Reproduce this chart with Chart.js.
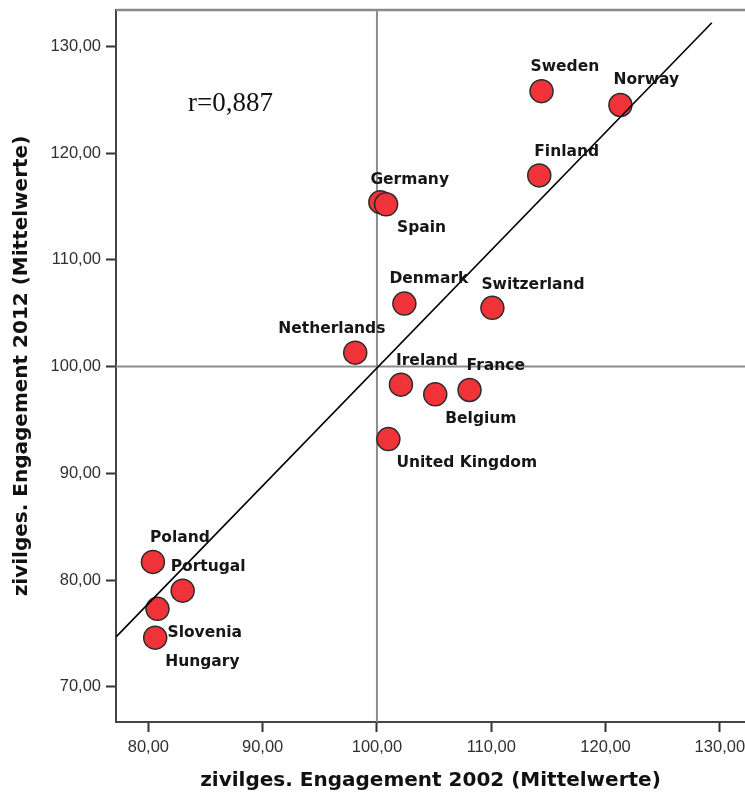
<!DOCTYPE html>
<html>
<head>
<meta charset="utf-8">
<script src="https://cdn.jsdelivr.net/npm/chart.js@4.4.1/dist/chart.umd.min.js"></script>
<style>
  html, body { margin: 0; padding: 0; background: #fff; overflow: hidden; }
  canvas { display: block; }
</style>
</head>
<body>
<canvas id="myChart" width="745" height="796"></canvas>
<script>
// data
const countries = ['Sweden', 'Norway', 'Finland', 'Germany', 'Spain', 'Denmark', 'Switzerland', 'Netherlands',
                   'Ireland', 'France', 'Belgium', 'United Kingdom', 'Poland', 'Portugal', 'Slovenia', 'Hungary'];
const engagement2002 = [114.4, 121.3, 114.2, 100.3, 100.8, 102.4, 110.1, 98.1,
                        102.1, 108.1, 105.1, 101.0, 80.4, 83.0, 80.8, 80.6];
const engagement2012 = [125.8, 124.5, 117.9, 115.4, 115.2, 105.9, 105.5, 101.3,
                        98.3, 97.8, 97.4, 93.2, 81.7, 79.0, 77.3, 74.6];
const fitX = [77.2, 129.3];
const fitY = [74.7, 132.2];
const xTicks = [80, 90, 100, 110, 120, 130];
const xTickLabels = ['80,00', '90,00', '100,00', '110,00', '120,00', '130,00'];
const yTicks = [70, 80, 90, 100, 110, 120, 130];
const yTickLabels = ['70,00', '80,00', '90,00', '100,00', '110,00', '120,00', '130,00'];
const correlationText = 'r=0,887';

const xMin = 77.17, xMax = 132.2;
const yMin = 66.7, yMax = 133.4;

// label placement (px offset from point centre)
const labelOffsets = [[-11, -20], [-7, -21], [-5, -19], [-10, -18], [11, 28], [-15, -21], [-11, -19], [-77, -20],
                      [-5, -20], [-3, -20], [10, 29], [8, 28], [-3, -20], [-12, -20], [10, 28], [10, 28]];

const points = countries.map((c, i) => ({x: engagement2002[i], y: engagement2012[i]}));

const labelPlugin = {
    id: 'labels',
    beforeDatasetsDraw(chart) {
        const {ctx, chartArea} = chart;
        ctx.save();
        ctx.strokeStyle = '#8a8a8a';
        ctx.lineWidth = 2.5;
        ctx.beginPath();
        ctx.moveTo(chartArea.left, chartArea.top);
        ctx.lineTo(chartArea.right, chartArea.top);
        ctx.stroke();
        ctx.restore();
    },
    afterDatasetsDraw(chart) {
        const {ctx} = chart;
        const xs = chart.scales.x, ys = chart.scales.y;
        ctx.save();
        ctx.font = 'bold 15.5px "DejaVu Sans"';
        ctx.fillStyle = '#161616';
        ctx.textAlign = 'left';
        ctx.textBaseline = 'alphabetic';
        countries.forEach((c, i) => {
            const px = xs.getPixelForValue(engagement2002[i]);
            const py = ys.getPixelForValue(engagement2012[i]);
            ctx.fillText(c, px + labelOffsets[i][0], py + labelOffsets[i][1]);
        });
        ctx.font = '27px "Liberation Serif"';
        ctx.fillStyle = '#111';
        ctx.fillText(correlationText, xs.getPixelForValue(83.47), ys.getPixelForValue(123.9));
        ctx.restore();
    }
};

const config = {
    type: 'scatter',
    data: {
        datasets: [
            {
                data: points,
                pointRadius: 11.5,
                pointBackgroundColor: '#EF3338',
                pointBorderColor: '#2b2b2b',
                pointBorderWidth: 1.5,
                order: 2
            },
            {
                data: [{x: 100, y: yMin}, {x: 100, y: yMax}],
                showLine: true,
                pointRadius: 0,
                borderColor: '#8c8c8c',
                borderWidth: 2,
                order: 3
            },
            {
                data: [{x: xMin, y: 100}, {x: xMax, y: 100}],
                showLine: true,
                pointRadius: 0,
                borderColor: '#8c8c8c',
                borderWidth: 2,
                order: 3
            },
            {
                data: fitX.map((v, i) => ({x: v, y: fitY[i]})),
                showLine: true,
                pointRadius: 0,
                borderColor: '#000',
                borderWidth: 1.6,
                order: 1
            }
        ]
    },
    options: {
        responsive: false,
        animation: false,
        layout: {autoPadding: false, padding: {top: 10, right: 0, left: 0, bottom: 0}},
        plugins: {legend: {display: false}, tooltip: {enabled: false}},
        scales: {
            x: {
                type: 'linear',
                position: 'bottom',
                min: xMin,
                max: xMax,
                afterBuildTicks: (scale) => { scale.ticks = xTicks.map(v => ({value: v})); },
                afterFit: (scale) => {
                    scale.height = 74;
                    scale.paddingLeft = 0;
                    scale.paddingRight = 0;
                },
                ticks: {
                    callback: (v) => xTickLabels[xTicks.indexOf(v)],
                    font: {family: 'Liberation Sans', size: 16.5},
                    color: '#303030',
                    padding: 6,
                    maxRotation: 0
                },
                grid: {drawOnChartArea: false, drawTicks: true, tickLength: 10, tickColor: '#333', tickWidth: 2},
                border: {display: true, color: '#444', width: 2},
                title: {
                    display: true,
                    text: 'zivilges. Engagement 2002 (Mittelwerte)',
                    font: {family: 'DejaVu Sans', size: 20, weight: 'bold'},
                    color: '#111',
                    padding: {top: 0, bottom: 3}
                }
            },
            y: {
                type: 'linear',
                position: 'left',
                min: yMin,
                max: yMax,
                afterBuildTicks: (scale) => { scale.ticks = yTicks.map(v => ({value: v})); },
                afterFit: (scale) => {
                    scale.width = 116;
                    scale.paddingTop = 0;
                    scale.paddingBottom = 0;
                },
                ticks: {
                    callback: (v) => yTickLabels[yTicks.indexOf(v)],
                    font: {family: 'Liberation Sans', size: 16.5},
                    color: '#303030',
                    padding: 5
                },
                grid: {drawOnChartArea: false, drawTicks: true, tickLength: 10, tickColor: '#333', tickWidth: 2},
                border: {display: true, color: '#444', width: 2},
                title: {
                    display: true,
                    text: 'zivilges. Engagement 2012 (Mittelwerte)',
                    font: {family: 'DejaVu Sans', size: 20, weight: 'bold'},
                    color: '#111',
                    padding: {top: 10, bottom: 0}
                }
            }
        }
    },
    plugins: [labelPlugin]
};

const myChart = new Chart(document.getElementById('myChart'), config);
</script>
</body>
</html>
